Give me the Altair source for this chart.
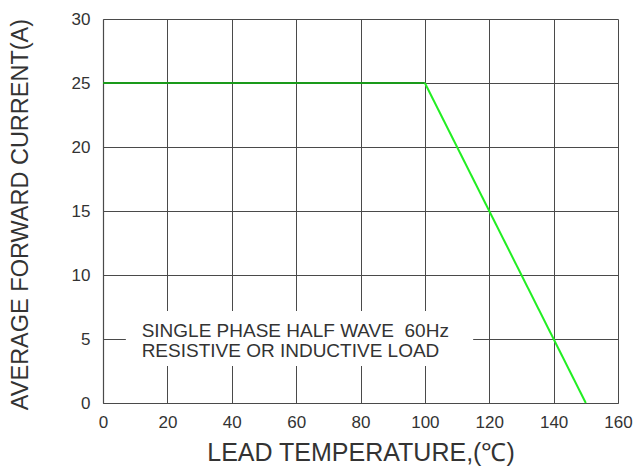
import altair as alt
import pandas as pd

temps = [0, 100, 150]
currents = [25, 25, 0]
x_ticks = [0, 20, 40, 60, 80, 100, 120, 140, 160]
y_ticks = [0, 5, 10, 15, 20, 25, 30]
note_lines = ["SINGLE PHASE HALF WAVE\u00a0 60Hz", "RESISTIVE OR INDUCTIVE LOAD"]

df = pd.DataFrame({"t": temps, "i": currents})
flat = df.iloc[0:2]
slope = df.iloc[1:3]

FONT = "Liberation Sans"
GRID = "#4a4a4a"
TXT = "#333333"

xs = alt.Scale(domain=[0, 160], nice=False)
ys = alt.Scale(domain=[0, 30], nice=False)

xaxis = alt.Axis(values=x_ticks, grid=True, gridColor=GRID, gridOpacity=1, gridWidth=1,
                 domainColor=GRID, domainWidth=1.2, ticks=False, labelPadding=11,
                 labelFlush=False,
                 labelFont=FONT, labelFontSize=17, labelColor=TXT,
                 title="LEAD TEMPERATURE,(℃)", titleFont=FONT, titleFontSize=25,
                 titleFontWeight="normal", titleColor=TXT, titleY=57,
                 titleBaseline="alphabetic")
yaxis = alt.Axis(values=y_ticks, grid=True, gridColor=GRID, gridOpacity=1, gridWidth=1,
                 domainColor=GRID, domainWidth=1.2, ticks=False, labelPadding=13,
                 labelFont=FONT, labelFontSize=17, labelColor=TXT,
                 title="AVERAGE FORWARD CURRENT(A)", titleFont=FONT, titleFontSize=23.5,
                 titleFontWeight="normal", titleColor=TXT, titleX=-76, titleY=195,
                 titleBaseline="alphabetic", titleAngle=-90)

base_x = alt.X("t:Q", scale=xs, axis=xaxis)
base_y = alt.Y("i:Q", scale=ys, axis=yaxis)

box = alt.Chart(pd.DataFrame({"x": [7.1], "x2": [115.0], "y": [2.89], "y2": [7.19]})).mark_rect(
    fill="white").encode(
    x=alt.X("x:Q", scale=xs, axis=xaxis), x2="x2:Q",
    y=alt.Y("y:Q", scale=ys, axis=yaxis), y2="y2:Q")

line1 = alt.Chart(flat).mark_line(color="#1a9a1a", strokeWidth=2).encode(x=base_x, y=base_y)
line2 = alt.Chart(slope).mark_line(color="#22ee22", strokeWidth=2).encode(x=base_x, y=base_y)

notes = alt.Chart(pd.DataFrame({"x": [12.0, 12.0], "y": [5.16, 3.59], "txt": note_lines})).mark_text(
    align="left", baseline="alphabetic", font=FONT, fontSize=19, color=TXT).encode(
    x=alt.X("x:Q", scale=xs, axis=xaxis), y=alt.Y("y:Q", scale=ys, axis=yaxis), text="txt:N")

chart = alt.layer(box, line1, line2, notes).properties(
    width=515, height=384,
    autosize=alt.AutoSizeParams(type="none"),
    padding={"left": 95, "top": 11, "right": 15, "bottom": 63},
    background="white",
).configure_view(stroke=None)

chart.save("out.html", embed_options={"renderer": "svg", "actions": False})
